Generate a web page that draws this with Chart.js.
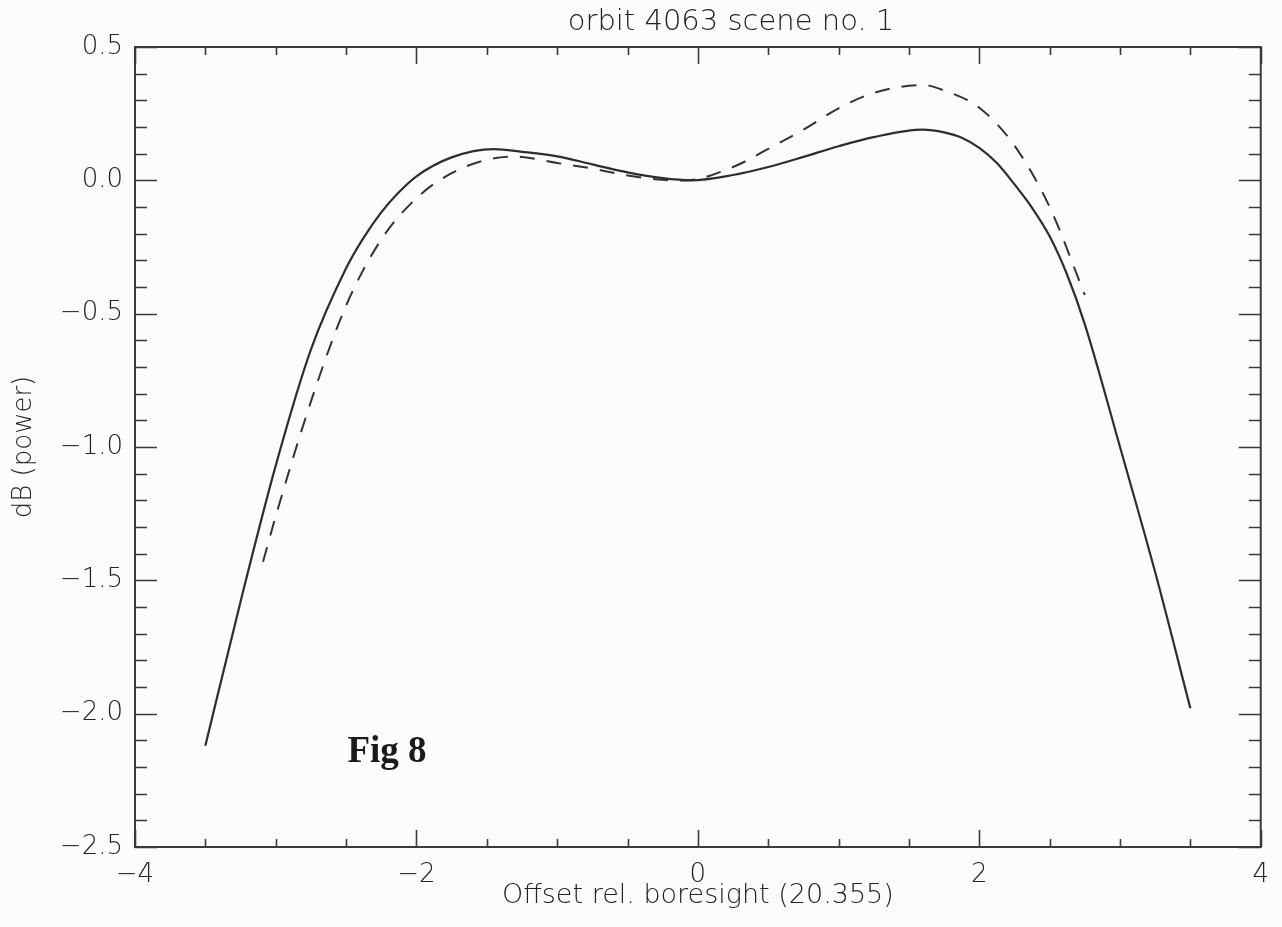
<!DOCTYPE html>
<html>
<head>
<meta charset="utf-8">
<title>orbit 4063 scene no. 1</title>
<script src="https://cdn.jsdelivr.net/npm/chart.js@4/dist/chart.umd.min.js"></script>
<style>
  html, body { margin: 0; padding: 0; background: #fcfcfc; }
  #wrap { width: 1282px; height: 927px; }
</style>
</head>
<body>
<div id="wrap"><canvas id="beamChart" width="1282" height="927"></canvas></div>
<script>
// antenna pattern, offset vs dB (power)
const solidX = [-3.5, -3.25, -3, -2.75, -2.5, -2.375, -2.25, -2.125, -2, -1.75, -1.45, -1.25, -1, -0.75, -0.5, -0.25, -0.05, 0.25, 0.5, 0.75, 1, 1.25, 1.6, 1.75, 1.875, 2, 2.125, 2.25, 2.375, 2.5, 2.625, 2.75, 3, 3.25, 3.5];
const solidY = [-2.12, -1.58, -1.07, -0.635, -0.33, -0.215, -0.12, -0.045, 0.015, 0.086, 0.117, 0.107, 0.09, 0.06, 0.03, 0.008, 0.0, 0.02, 0.05, 0.088, 0.128, 0.162, 0.19, 0.18, 0.16, 0.122, 0.065, -0.015, -0.103, -0.21, -0.355, -0.54, -1.0, -1.47, -1.98];

const dashX = [-3.09, -3, -2.75, -2.5, -2.25, -2, -1.75, -1.5, -1.3, -1, -0.75, -0.5, -0.25, -0.1, 0.25, 0.5, 0.75, 1, 1.25, 1.6, 1.75, 2, 2.25, 2.5, 2.75];
const dashY = [-1.43, -1.26, -0.83, -0.47, -0.222, -0.067, 0.027, 0.077, 0.089, 0.065, 0.044, 0.018, 0.002, -0.001, 0.05, 0.118, 0.19, 0.27, 0.328, 0.357, 0.337, 0.272, 0.13, -0.10, -0.43];

const xMin = -4, xMax = 4, xMajor = 2, xMinor = 0.5;
const yMin = -2.5, yMax = 0.5, yMajor = 0.5, yMinor = 0.1;

const titleText = 'orbit 4063 scene no. 1';
const xTitle = 'Offset rel. boresight (20.355)';
const yTitle = 'dB (power)';
const figLabel = { text: 'Fig 8', x: -2.49, y: -2.18 };

const ink = '#222';
const sans = '"DejaVu Sans", Roboto, sans-serif';

const toPoints = (xs, ys) => xs.map((x, i) => ({ x: x, y: ys[i] }));

// use a real minus sign in tick labels
const fmtTick = s => String(s).replace('-', '\u2212');

// frame with inward ticks on all four sides, plus the titles and the figure label
const frame = {
    id: 'frame',
    afterDatasetsDraw(chart) {
        const { ctx, chartArea: a, scales: { x, y } } = chart;
        ctx.save();
        ctx.strokeStyle = '#3a3a3a';
        ctx.lineWidth = 2;
        ctx.strokeRect(a.left, a.top, a.width, a.height);

        ctx.lineWidth = 1.6;
        ctx.beginPath();
        for (let v = xMin; v <= xMax + 1e-9; v += xMinor) {
            const px = Math.round(x.getPixelForValue(v)) + 0.5;
            const major = Math.abs(v / xMajor - Math.round(v / xMajor)) < 1e-6;
            const len = major ? 17 : 8;
            ctx.moveTo(px, a.bottom); ctx.lineTo(px, a.bottom - len);
            ctx.moveTo(px, a.top); ctx.lineTo(px, a.top + len);
        }
        for (let v = yMin; v <= yMax + 1e-9; v += yMinor) {
            const py = Math.round(y.getPixelForValue(v)) + 0.5;
            const major = Math.abs(v / yMajor - Math.round(v / yMajor)) < 1e-6;
            const len = major ? 22 : 12;
            ctx.moveTo(a.left, py); ctx.lineTo(a.left + len, py);
            ctx.moveTo(a.right, py); ctx.lineTo(a.right - len, py);
        }
        ctx.stroke();

        ctx.fillStyle = ink;
        ctx.textAlign = 'center';
        ctx.textBaseline = 'middle';
        ctx.font = '200 29px ' + sans;
        ctx.fillText(titleText, 731, 22);

        ctx.font = '200 27px ' + sans;
        ctx.fillText(xTitle, (a.left + a.right) / 2, 896);

        ctx.save();
        ctx.translate(24, 447);
        ctx.rotate(-Math.PI / 2);
        ctx.font = '200 26px ' + sans;
        ctx.fillText(yTitle, 0, 0);
        ctx.restore();

        ctx.font = 'bold 37px "Liberation Serif", "Times New Roman", serif';
        ctx.fillStyle = '#1a1a1a';
        ctx.textAlign = 'left';
        ctx.textBaseline = 'alphabetic';
        ctx.fillText(figLabel.text, x.getPixelForValue(figLabel.x), y.getPixelForValue(figLabel.y));
        ctx.restore();
    }
};

new Chart(document.getElementById('beamChart').getContext('2d'), {
    type: 'scatter',
    data: {
        datasets: [
            {
                label: 'solid',
                data: toPoints(solidX, solidY),
                showLine: true,
                borderColor: '#2e2e2e',
                borderWidth: 2.2,
                pointRadius: 0,
                cubicInterpolationMode: 'monotone'
            },
            {
                label: 'dashed',
                data: toPoints(dashX, dashY),
                showLine: true,
                borderColor: '#333',
                borderWidth: 2,
                borderDash: [15, 12],
                pointRadius: 0,
                cubicInterpolationMode: 'monotone'
            }
        ]
    },
    options: {
        responsive: false,
        animation: false,
        layout: { padding: { top: 47, right: 17, left: 0, bottom: 0 } },
        plugins: {
            legend: { display: false },
            title: { display: false },
            tooltip: { enabled: false }
        },
        scales: {
            x: {
                type: 'linear',
                min: xMin, max: xMax,
                grid: { display: false, drawTicks: false },
                border: { display: false },
                afterFit: s => { s.height = 80; },
                ticks: {
                    stepSize: xMajor,
                    padding: 13,
                    color: ink,
                    font: { family: sans, size: 26, weight: '200' },
                    callback: v => fmtTick(v)
                }
            },
            y: {
                type: 'linear',
                min: yMin, max: yMax,
                grid: { display: false, drawTicks: false },
                border: { display: false },
                afterFit: s => { s.width = 135; },
                ticks: {
                    stepSize: yMajor,
                    padding: 12,
                    color: ink,
                    font: { family: sans, size: 26, weight: '200' },
                    callback: v => fmtTick(Number(v).toFixed(1))
                }
            }
        }
    },
    plugins: [frame]
});
</script>
</body>
</html>
